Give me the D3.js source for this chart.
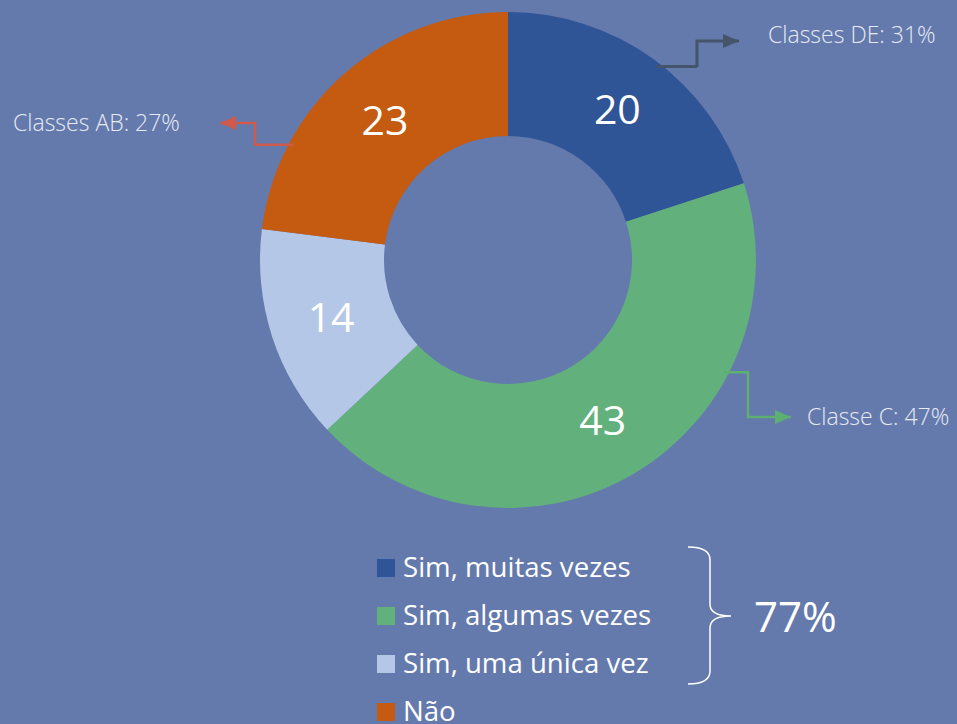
<!DOCTYPE html>
<html>
<head>
  <meta charset="utf-8">
  <script src="https://d3js.org/d3.v7.min.js"></script>
  <style>
    html, body { margin: 0; padding: 0; background: #647AAD; }
    svg { display: block; font-family: "Open Sans", sans-serif; }
  </style>
</head>
<body>
  <div id="chart"></div>

  <script>
    // data
    const categories = ["Sim, muitas vezes", "Sim, algumas vezes", "Sim, uma única vez", "Não"];
    const values = [20, 43, 14, 23];
    const sliceColors = ["#2F5597", "#62B07B", "#B4C7E7", "#C55A11"];
    const classLabels = ["Classes DE: 31%", "Classe C: 47%", "Classes AB: 27%"];
    const classColors = ["#44546A", "#5DB070", "#CF5A4C"];
    const totalLabel = "77%";

    const width = 957, height = 724;
    const cx = 508, cy = 260, outerR = 248, innerR = 124;

    const data = categories.map((c, i) => ({ label: c, value: values[i] }));

    const color = d3.scaleOrdinal()
      .domain(categories)
      .range(sliceColors);

    const pie = d3.pie()
      .value(d => d.value)
      .sort(null);

    const arc = d3.arc()
      .innerRadius(innerR)
      .outerRadius(outerR);

    const svg = d3.select("#chart")
      .append("svg")
      .attr("width", width)
      .attr("height", height);

    svg.append("rect")
      .attr("width", width)
      .attr("height", height)
      .attr("fill", "#647AAD");

    const g = svg.append("g")
      .attr("transform", `translate(${cx}, ${cy})`);

    const arcs = pie(data);

    // slices
    g.selectAll("path.slice")
      .data(arcs)
      .enter()
      .append("path")
      .attr("class", "slice")
      .attr("d", arc)
      .attr("fill", d => color(d.data.label));

    // value labels
    g.selectAll("text.val")
      .data(arcs)
      .enter()
      .append("text")
      .attr("class", "val")
      .attr("transform", d => `translate(${arc.centroid(d)})`)
      .attr("text-anchor", "middle")
      .attr("dy", "0.36em")
      .style("font-size", "41px")
      .attr("fill", "#ffffff")
      .text(d => d.data.value);

    // elbow arrows to the class callouts (layout only)
    const callouts = [
      { angle: 37.5, pts: [[697, 67], [697, 41], [739, 41]], text: [768, 43], sw: 3 },
      { angle: 117.4, pts: [[748, 374], [748, 417], [791, 417]], text: [807, 425], sw: 2.5 },
      { angle: 298.2, pts: [[255, 143], [255, 123], [220, 123]], text: [13, 131], sw: 2.5 }
    ];

    const defs = svg.append("defs");
    classColors.forEach((c, i) => {
      defs.append("marker")
        .attr("id", "arrow" + i)
        .attr("markerUnits", "userSpaceOnUse")
        .attr("viewBox", "0 0 16 14")
        .attr("refX", 16)
        .attr("refY", 7)
        .attr("markerWidth", 16)
        .attr("markerHeight", 14)
        .attr("orient", "auto")
        .append("path")
        .attr("d", "M0,0 L16,7 L0,14 Z")
        .attr("fill", c);
    });

    const line = d3.line();
    callouts.forEach((c, i) => {
      const a = c.angle * Math.PI / 180;
      const r = outerR - 4;
      const start = [cx + r * Math.sin(a), cy - r * Math.cos(a)];
      const pts = [[c.pts[0][0], start[1]]].concat(c.pts);
      pts.unshift(start);
      svg.append("path")
        .attr("d", line(pts))
        .attr("fill", "none")
        .attr("stroke", classColors[i])
        .attr("stroke-width", c.sw)
        .attr("marker-end", `url(#arrow${i})`);

      svg.append("text")
        .attr("x", c.text[0])
        .attr("y", c.text[1])
        .style("font-size", "23px")
        .style("font-weight", 300)
        .attr("fill", "#E6EAF3")
        .text(classLabels[i]);
    });

    // legend
    const legend = svg.append("g")
      .attr("transform", "translate(377, 577)");

    const rows = legend.selectAll("g")
      .data(categories)
      .enter()
      .append("g")
      .attr("transform", (d, i) => `translate(0, ${i * 48})`);

    rows.append("rect")
      .attr("x", 0)
      .attr("y", -18)
      .attr("width", 18)
      .attr("height", 18)
      .attr("fill", d => color(d));

    rows.append("text")
      .attr("x", 26)
      .attr("y", 0)
      .style("font-size", "27.6px")
      .attr("fill", "#ffffff")
      .text(d => d);

    // brace grouping the three "Sim" answers
    svg.append("path")
      .attr("d", "M688,547 Q710,547 710,560 L710,604 Q710,616 731,616 Q710,616 710,628 L710,671 Q710,684 688,684")
      .attr("fill", "none")
      .attr("stroke", "#ffffff")
      .attr("stroke-width", 1.5);

    svg.append("text")
      .attr("x", 754)
      .attr("y", 632)
      .style("font-size", "42px")
      .attr("fill", "#ffffff")
      .text(totalLabel);
  </script>
</body>
</html>
